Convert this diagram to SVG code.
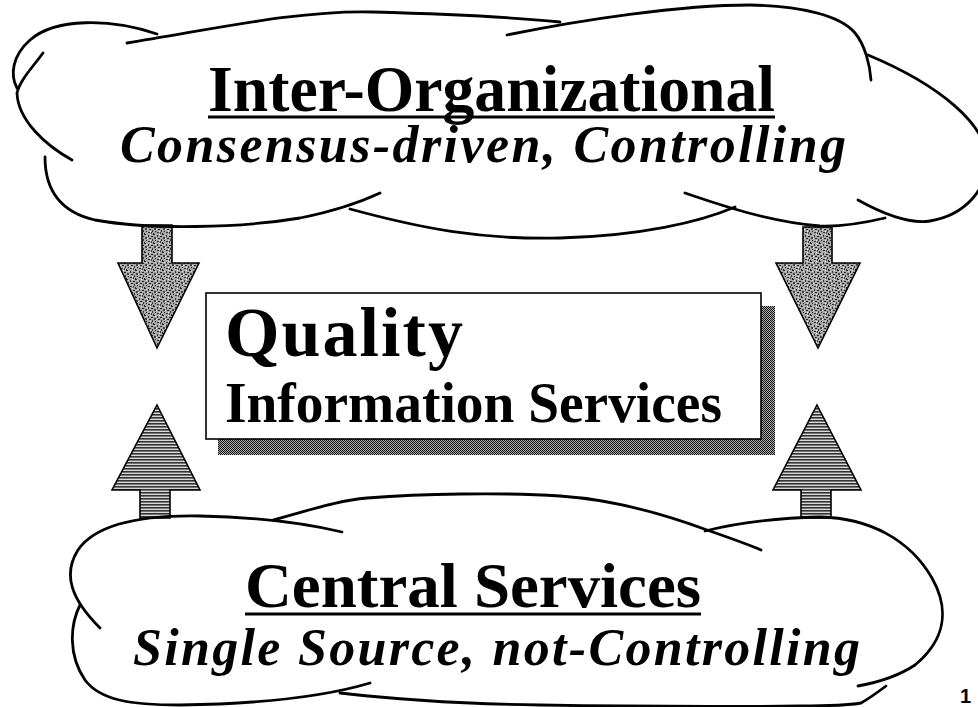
<svg xmlns="http://www.w3.org/2000/svg" width="978" height="707" viewBox="0 0 978 707">
<style>
.cl{fill:none;stroke:#000;stroke-width:2.8;stroke-linecap:round;stroke-linejoin:round}
.t{font-family:"Liberation Serif","Times New Roman",serif;font-weight:bold;fill:#000}
.it{font-style:italic}
.ar{stroke:#000;stroke-width:1.6;stroke-linejoin:miter}
</style>
<defs>
<pattern id="mott" width="9" height="9" patternUnits="userSpaceOnUse">
<rect width="9" height="9" fill="#a8a8a8"/>
<rect x="0" y="0" width="2" height="1" fill="#222"/>
<rect x="4" y="1" width="1" height="2" fill="#333"/>
<rect x="7" y="2" width="2" height="1" fill="#222"/>
<rect x="1" y="3" width="2" height="2" fill="#444"/>
<rect x="5" y="4" width="2" height="1" fill="#222"/>
<rect x="8" y="5" width="1" height="2" fill="#333"/>
<rect x="2" y="6" width="1" height="1" fill="#222"/>
<rect x="4" y="7" width="2" height="1" fill="#333"/>
<rect x="0" y="8" width="1" height="1" fill="#222"/>
<rect x="7" y="7" width="1" height="2" fill="#444"/>
<rect x="3" y="4" width="1" height="1" fill="#eee"/>
<rect x="6" y="0" width="1" height="1" fill="#eee"/>
<rect x="2" y="1" width="1" height="1" fill="#ddd"/>
<rect x="6" y="6" width="1" height="1" fill="#eee"/>
</pattern>
<pattern id="hatch" width="6" height="3" patternUnits="userSpaceOnUse">
<rect width="6" height="3" fill="#d8d8d8"/>
<rect y="0" width="6" height="1.6" fill="#333"/>
</pattern>
<pattern id="dots" width="2" height="2" patternUnits="userSpaceOnUse">
<rect width="2" height="2" fill="#b0b0b0"/>
<rect width="1" height="1" fill="#111"/>
<rect x="1" y="1" width="1" height="1" fill="#111"/>
</pattern>
</defs>
<rect width="978" height="707" fill="#fff"/>

<g id="connectors">
<polygon class="ar" fill="url(#mott)" points="142,225 172,225 172,263 199,263 157,348 118,263 142,263"/>
<polygon class="ar" fill="url(#mott)" points="803,227 832,227 832,263 860,263 818,348 776,263 803,263"/>
<polygon class="ar" fill="url(#hatch)" points="157,405 200,490 170,490 170,518 140,518 140,490 112,490"/>
<polygon class="ar" fill="url(#hatch)" points="817,405 861,490 831,490 831,518 801,518 801,490 773,490"/>
</g>

<g id="cloud-top">
<path class="cl" d="M127,43 C220,28 300,10 373,12 C450,14 510,17 560,22"/>
<path class="cl" d="M157,34 C110,18 55,18 30,40 C12,56 10,75 17,88"/>
<path class="cl" d="M43,53 C32,68 20,80 17,93 C18,120 45,145 72,160"/>
<path class="cl" d="M45,157 C45,190 60,212 95,220 C150,230 240,228 300,218 C340,210 365,200 380,193"/>
<path class="cl" d="M350,209 C420,228 480,240 560,238 C640,236 700,222 735,207"/>
<path class="cl" d="M685,193 C720,205 770,222 820,226 C845,227 868,222 885,218"/>
<path class="cl" d="M858,200 C885,215 910,224 930,221 C965,215 987,190 987,160 C987,125 940,85 868,55"/>
<path class="cl" d="M507,35 C580,20 680,5 750,5 C800,6 840,15 855,33 C865,45 870,65 871,80"/>
<text class="t" x="208" y="111" font-size="66" textLength="567" lengthAdjust="spacingAndGlyphs">Inter-Organizational</text>
<rect x="208" y="115.5" width="567" height="3" fill="#000"/>
<text class="t it" x="120" y="162" font-size="52" textLength="726" lengthAdjust="spacing">Consensus-driven, Controlling</text>
</g>

<g id="box">
<rect x="218" y="306" width="557" height="149" fill="url(#dots)"/>
<rect x="206" y="293" width="555" height="146" fill="#fff" stroke="#000" stroke-width="1.6"/>
<text class="t" x="225" y="356" font-size="70" textLength="238" lengthAdjust="spacing">Quality</text>
<text class="t" x="225" y="422" font-size="58" textLength="497" lengthAdjust="spacingAndGlyphs">Information Services</text>
</g>

<g id="cloud-bottom">
<path class="cl" d="M342,532 C300,522 250,517 200,516 C140,515 95,525 78,550 C62,575 72,600 100,628"/>
<path class="cl" d="M273,520 C310,510 340,500 367,498 C420,494 500,492 560,496 C620,500 680,520 707,530 C730,538 750,545 761,550"/>
<path class="cl" d="M705,531 C740,522 780,518 820,517 C870,518 910,540 932,578 C950,610 945,640 915,665 C900,675 880,682 858,686"/>
<path class="cl" d="M80,605 C70,625 68,655 85,680 C100,700 130,705 180,705 C250,704 320,698 370,683"/>
<path class="cl" d="M340,693 C400,700 470,704 540,705 C600,706 700,707 800,706 C830,706 850,705 861,703 C870,698 878,692 886,686"/>
<text class="t" x="245" y="607" font-size="64" textLength="456" lengthAdjust="spacingAndGlyphs">Central Services</text>
<rect x="245" y="612.5" width="456" height="3" fill="#000"/>
<text class="t it" x="133" y="665" font-size="52" textLength="727" lengthAdjust="spacing">Single Source, not-Controlling</text>
</g>

<text x="960" y="703" font-family="'Liberation Sans',Arial,sans-serif" font-weight="bold" font-size="20" fill="#000">1</text>
</svg>
